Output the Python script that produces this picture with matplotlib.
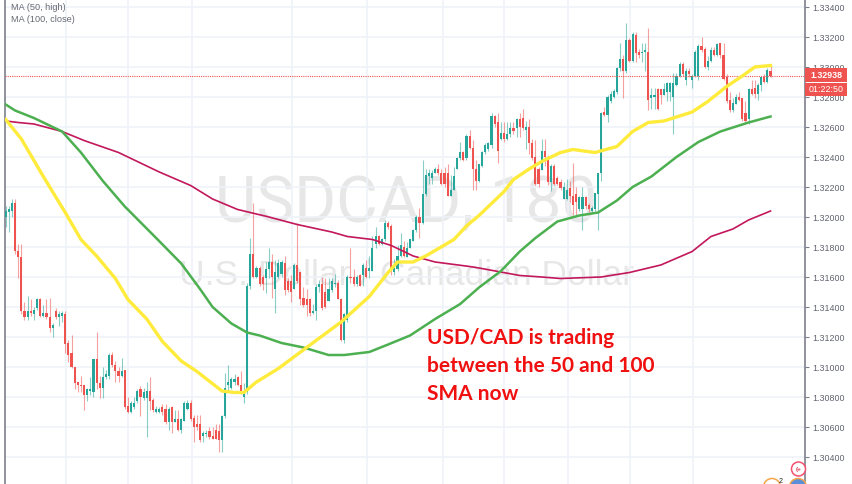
import numpy as np
import matplotlib
matplotlib.use("Agg")
import matplotlib.pyplot as plt
from matplotlib.patches import Circle, Rectangle

# candles, in pips above 1.30000
opens = [200,203,204,209,177,173,137,133,137,135, 139,145,134,136,133,126,137,133,134,135,
         116,109,100,90,88,88,81,84,83,105, 89,86,93,94,108,101,97,94,98,74,
         70,73,77,85,79,79,84,78,70,70, 73,72,63,73,63,65,58,64,72,76,
         66,62,62,54,55,57,54,58,57,51, 67,88,86,90,93,88,80,83,154,175,
         160,166,160,159,165,170,152,160,162,169, 157,157,152,168,163,146,145,145,136,137,
         153,155,150,144,151,155,156,145,118,131, 160,160,155,161,161,166,164,164,182,187,
         182,185,196,194,163,165,174,180,173,179, 184,191,200,196,215,227,226,229,232,229,
         229,229,214,218,232,239,243,239,254,246, 232,224,234,243,245,248,267,263,252,256,
         252,255,259,259,265,266,258,260,249,240, 232,231,244,240,223,234,226,223,212,212,
         219,214,215,205,205,213,208,204,205,215, 229,270,268,277,280,283,299,305,297,318,
         304,321,310,309,310,310,279,280,285,285, 281,283,283,280,288,294,302,291,297,291,
         294,294,314,312,300,304,311,308,316,308, 293,278,271,275,280,279,269,265,285,286,
         282,288,293,290,297]
closes = [204,205,209,177,173,137,133,137,136,138, 145,134,136,133,126,128,133,135,136,115,
          108,100,89,88,87,81,85,85,105,89, 86,93,95,108,101,97,94,97,73,70,
          76,76,84,80,83,84,77,71,72,72, 70,63,72,63,65,58,65,76,76,65,
          60,60,51,56,56,53,52,52,51,67, 86,90,92,92,88,83,83,154,175,160,
          166,155,155,165,170,160,163,169,170,151, 151,150,168,157,145,141,141,136,137,153,
          155,139,140,152,157,156,145,118,135,160, 159,155,160,154,168,160,166,179,187,182,
          185,196,193,164,166,174,181,174,179,185, 191,200,196,215,228,229,229,232,229,222,
          222,214,218,227,239,243,238,254,246,232, 224,235,243,248,249,267,262,244,256,252,
          255,259,257,265,260,259,260,249,239,222, 222,244,240,223,234,222,222,219,220,218,
          214,208,210,213,213,207,205,206,216,229, 269,268,280,282,284,299,305,297,318,304,
          322,309,308,310,311,278,281,281,272,281, 285,289,289,289,294,302,295,297,295,294,
          310,314,311,300,304,311,308,315,308,292, 277,271,276,280,278,265,264,285,282,282,
          288,293,290,298,294]
highs = [207,207,212,212,182,182,143,147,145,140, 146,146,141,145,146,129,139,137,137,137,
         118,121,100,90,94,88,86,93,105,123, 94,100,98,109,110,104,100,106,98,80,
         77,80,85,87,86,90,93,79,74,73, 75,75,73,74,71,71,66,77,78,78,
         68,68,68,57,58,60,60,62,62,68, 96,101,93,95,94,97,89,156,186,209,
         167,167,161,170,179,175,171,172,171,174, 159,161,169,196,163,153,152,146,142,155,
         158,160,159,159,159,162,158,146,136,161, 179,165,161,162,169,171,174,187,193,188,
         186,198,197,195,172,181,189,184,183,185, 192,201,206,238,232,232,231,233,235,232,
         233,235,228,233,240,250,244,255,258,251, 238,235,244,249,250,269,268,269,263,263,
         263,263,263,266,269,272,264,265,252,251, 233,252,252,241,235,235,227,225,223,225,
         224,236,220,214,220,214,209,207,216,229, 270,273,281,284,285,300,316,308,329,319,
         323,323,312,316,316,326,286,286,286,285, 289,290,290,296,296,303,303,299,299,295,
         311,315,320,313,307,313,313,316,316,316, 295,283,279,282,283,279,277,286,291,291,
         289,293,295,299,301]
lows = [193,190,200,175,159,135,131,131,134,131, 138,133,133,132,123,120,132,127,130,109,
        103,99,85,83,83,71,77,81,80,85, 79,79,92,92,100,90,90,93,72,69,
        69,72,76,67,78,53,71,70,69,69, 68,62,58,56,63,57,56,64,71,64,
        50,58,50,50,53,52,52,52,43,43, 66,84,85,88,87,82,76,82,152,159,
        159,154,151,149,159,146,136,159,160,148, 150,143,152,156,141,140,134,134,135,131,
        150,138,139,144,150,153,145,117,116,130, 156,154,154,154,154,159,159,164,179,181,
        181,184,192,161,161,164,173,173,173,179, 184,190,186,195,214,222,222,229,228,221,
        220,214,214,218,232,238,237,238,245,218, 218,223,233,242,244,246,260,236,251,250,
        251,253,255,253,253,258,245,242,238,221, 220,231,234,221,217,221,221,218,212,211,
        210,201,201,204,191,205,203,203,204,191, 224,267,263,276,279,282,297,279,296,303,
        303,303,306,303,297,271,272,272,271,275, 281,277,277,255,287,293,294,288,293,286,
        293,291,310,299,298,303,307,307,306,291, 276,270,270,275,277,264,263,262,281,279,
        278,284,289,289,293]

yellow_bars = [0,5,12,19,24,29,35,39,45,50,56,61,69,73,76,80,87,96,107,116,122,125,130,134,143,147,151,
               159,162,167,171,177,181,188,195,200,205,210,219,224,230,235,239,244]
yellow_vals = [265,252,227,203,185,174,159,145,132,117,104,97,84,83,83,90,99,113,130,147,163,170,170,174,185,194,201,
               217,225,232,237,243,245,243,247,257,263,264,270,277,287,294,300,301]
green_bars = [0,3,9,14,18,24,31,38,48,56,62,66,72,77,81,88,95,103,108,116,122,129,137,145,151,158,164,
              169,176,183,189,195,200,206,214,221,228,237,244]
green_vals = [275,271,266,261,257,243,224,207,186,169,152,140,129,123,121,116,113,108,108,110,115,121,132,142,153,164,177,
              186,197,201,203,211,220,227,240,250,257,263,267]
maroon_bars = [0,4,9,18,25,36,49,59,66,74,84,93,104,109,117,123,130,137,148,151,164,171,177,190,199,209,219,225,232,237,244]
maroon_vals = [264,263,262,257,251,243,230,221,212,205,200,195,190,187,185,181,174,170,167,166,161,160,159,160,163,168,177,187,192,198,204]

grid_bars = [19.1,39,59.3,91.2,115.2,139.4,158.9,179.3,199.1,219.2]
last_price = 1.32938
countdown = "01:22:50"
legend_lines = ["MA (50, high)", "MA (100, close)"]
note_lines = ["USD/CAD is trading", "between the 50 and 100", "SMA now"]


def to_price(pips):
    return 1.30 + np.array(pips) / 10000.0


W, H = 852, 485
plt.rcParams['font.family'] = ['Liberation Sans', 'DejaVu Sans']
fig = plt.figure(figsize=(W / 100, H / 100), dpi=100)
ax = fig.add_axes([5 / W, 0, 800 / W, 1])
ax.set_xlim(-0.22, 255)
ax.set_ylim(1.3022, 1.334533)

up_col = "#26a69a"
down_col = "#ef5350"
o, c, h, l = map(to_price, (opens, closes, highs, lows))
x = np.arange(len(o))
cols = [up_col if cc >= oo else down_col for oo, cc in zip(o, c)]

ax.set_xticks(grid_bars)
ax.set_yticks(np.arange(1.304, 1.3341, 0.002))
ax.set_yticklabels(["%.5f" % v for v in np.arange(1.304, 1.3341, 0.002)])
ax.grid(True, color="#eef3f8", lw=1.1)
ax.set_axisbelow(True)
ax.tick_params(axis="x", length=0, labelbottom=False)
ax.tick_params(axis="y", right=True, left=False, labelright=True, labelleft=False,
               length=3, width=0.8, color="#7d808a", labelcolor="#60636e", labelsize=6.4, pad=2)
for s in ("top", "bottom"):
    ax.spines[s].set_visible(False)
for s in ("left", "right"):
    ax.spines[s].set_color("#7d808a")
    ax.spines[s].set_linewidth(1.2)

# watermark
ax.text(0.501, 1 - 204 / H, "USDCAD, 180", transform=ax.transAxes, ha="center", va="center",
        fontsize=46, color="#e7e7e7", family="Roboto", zorder=0.5)
ax.text(0.502, 1 - 276 / H, "U.S. Dollar / Canadian Dollar", transform=ax.transAxes, ha="center", va="center",
        fontsize=25.5, color="#e7e7e7", zorder=0.5)

ax.vlines(x, l, h, colors=cols, lw=0.8, alpha=0.55, zorder=2)
ax.bar(x, np.maximum(np.abs(c - o), 0.00007), bottom=np.minimum(o, c), width=0.68, color=cols, lw=0, zorder=3)

ax.axhline(last_price, color="#ef5350", lw=0.8, ls=(0, (1, 1)), zorder=4)
ax.plot(maroon_bars, to_price(maroon_vals), color="#c2185b", lw=1.2, zorder=5)
ax.plot(green_bars, to_price(green_vals), color="#4caf50", lw=1.8, zorder=5)
ax.plot(yellow_bars, to_price(yellow_vals), color="#ffeb3b", lw=2.4, zorder=6)

# overlay in pixel coordinates for legend, note, price labels and event icons
top = fig.add_axes([0, 0, 1, 1], facecolor="none")
top.set_xlim(0, W)
top.set_ylim(H, 0)
top.axis("off")
top.text(11, 8, legend_lines[0], color="#666a72", fontsize=6.6, va="center")
top.text(11, 20, legend_lines[1], color="#666a72", fontsize=6.6, va="center")

for yy, line in zip((338, 366, 394), note_lines):
    top.text(427, yy, line, color="#f01010", fontsize=15, va="center", weight="bold", family="Lato")

top.add_patch(Rectangle((805, 69), 42, 13.5, color="#ef5350", lw=0))
top.add_patch(Rectangle((805, 84), 42, 12.5, color="#ef5350", lw=0))
top.text(826, 75.8, "%.5f" % last_price, color="white", fontsize=6.4, ha="center", va="center", weight="bold")
top.text(826, 90, countdown, color="white", fontsize=6.4, ha="center", va="center")

top.add_patch(Circle((798.5, 470), 7, fc="white", ec="#f2506e", lw=1.1))
top.text(798.5, 470, "(+", color="#e53950", fontsize=4.5, ha="center", va="center", weight="bold")
top.add_patch(Circle((772, 488), 8.5, fc="white", ec="#f5a54a", lw=1.1))
top.add_patch(Circle((798, 488), 8.5, fc="#5b8fd8", ec="#f5a54a", lw=1.1))
top.text(780.5, 482, "2", color="#222222", fontsize=5, ha="center", va="center")

fig.savefig("out.png", dpi=100)
